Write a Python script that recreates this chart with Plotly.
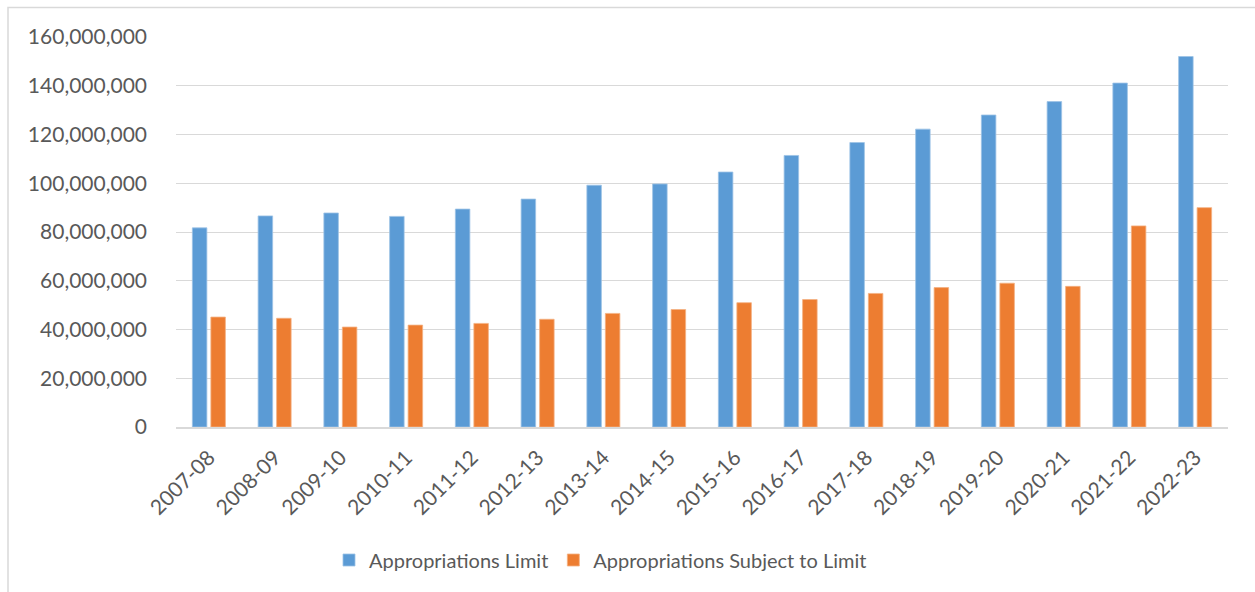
import plotly.graph_objects as go

years = ["2007-08", "2008-09", "2009-10", "2010-11", "2011-12", "2012-13", "2013-14", "2014-15",
         "2015-16", "2016-17", "2017-18", "2018-19", "2019-20", "2020-21", "2021-22", "2022-23"]
appropriations_limit = [81.7e6, 86.6e6, 87.8e6, 86.4e6, 89.4e6, 93.5e6, 99.2e6, 99.7e6,
                        104.6e6, 111.4e6, 116.7e6, 122.2e6, 128.0e6, 133.5e6, 141.1e6, 152.0e6]
subject_to_limit = [45.1e6, 44.6e6, 41.0e6, 41.8e6, 42.5e6, 44.2e6, 46.6e6, 48.2e6,
                    51.0e6, 52.3e6, 54.8e6, 57.2e6, 59.0e6, 57.7e6, 82.5e6, 90.0e6]
y_ticks = [0, 20e6, 40e6, 60e6, 80e6, 100e6, 120e6, 140e6, 160e6]
y_tick_text = ["0", "20,000,000", "40,000,000", "60,000,000", "80,000,000",
               "100,000,000", "120,000,000", "140,000,000", "160,000,000"]

FONT = "Lato"
TXT = "#595959"
GRID = "#d9d9d9"

fig = go.Figure()
fig.add_trace(go.Bar(x=years, y=appropriations_limit, name="Appropriations Limit",
                     marker=dict(color="#5B9BD5", line=dict(color="#9dc3e6", width=0.8))))
fig.add_trace(go.Bar(x=years, y=subject_to_limit, name="Appropriations Subject to Limit",
                     marker=dict(color="#ED7D31", line=dict(color="#f4b183", width=0.8))))

L, R, T, B = 176, 27, 37, 165
W, H = 1255, 592
pw, ph = W - L - R, H - T - B

fig.update_layout(
    width=W, height=H,
    margin=dict(l=L, r=R, t=T, b=B),
    paper_bgcolor="white", plot_bgcolor="white",
    barmode="group", bargap=0.437, bargroupgap=0.216,
    font=dict(family=FONT, size=21, color=TXT),
    showlegend=True,
    legend=dict(orientation="h", x=(343 - 14 - L) / pw, xanchor="left",
                y=(H - B - 560) / ph, yanchor="middle",
                font=dict(family=FONT, size=20, color=TXT),
                itemclick=False, bgcolor="rgba(0,0,0,0)"),
    xaxis=dict(type="category", tickangle=-45, showgrid=False, showline=True,
               linecolor=GRID, linewidth=2, ticks="", ticklabelstandoff=8,
               tickfont=dict(family=FONT, size=21, color=TXT)),
    yaxis=dict(range=[0, 160e6], tickvals=y_ticks, ticktext=y_tick_text,
               showgrid=True, gridcolor=GRID, gridwidth=1.3, zeroline=False,
               showline=False, ticks="", ticklabelstandoff=28,
               tickfont=dict(family=FONT, size=21, color=TXT)),
    shapes=[dict(type="rect", xref="paper", yref="paper",
                 x0=(8 - L) / pw, x1=(1270 - L) / pw,
                 y0=(H - B - 610) / ph, y1=(H - B - 7.5) / ph,
                 line=dict(color=GRID, width=1.5), fillcolor="rgba(0,0,0,0)", layer="below")],
)

fig.write_html("out.html")
